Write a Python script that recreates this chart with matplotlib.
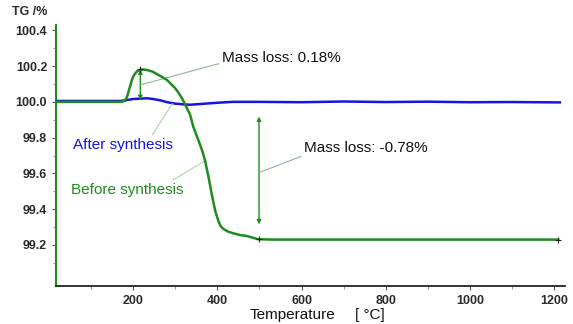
import numpy as np
import matplotlib.pyplot as plt

# TG curves
temp_before = [20, 170, 180, 185, 189, 193, 197, 201, 205, 210, 217, 225, 233, 245,
               256, 268, 280, 290, 300, 308, 316, 324, 335, 343, 351, 359, 365, 371,
               379, 387, 395, 403, 408, 414, 425, 438, 455, 470, 497, 530, 1210]
tg_before = [100.0, 100.0, 100.005, 100.025, 100.057, 100.09, 100.123, 100.145,
             100.16, 100.172, 100.18, 100.181, 100.178, 100.17, 100.156, 100.14,
             100.123, 100.1, 100.076, 100.05, 100.02, 99.983, 99.93, 99.86, 99.81,
             99.76, 99.72, 99.67, 99.58, 99.48, 99.39, 99.33, 99.305, 99.29, 99.275,
             99.265, 99.255, 99.25, 99.232, 99.23, 99.23]

temp_after = [20, 170, 185, 200, 217, 233, 250, 265, 281, 300, 320, 335, 360, 400,
              437, 500, 600, 700, 800, 900, 1000, 1100, 1214]
tg_after = [100.005, 100.005, 100.01, 100.016, 100.018, 100.02, 100.015, 100.008,
            99.998, 99.99, 99.986, 99.984, 99.988, 99.995, 100.0, 100.0, 99.998,
            100.002, 99.999, 100.001, 99.998, 99.999, 99.997]

peak_t, peak_tg = 217, 100.181
step_t, step_top, step_bottom = 499, 99.918, 99.315

green = '#1e8c1e'
blue = '#1414e6'
dark = '#2b2b2b'

plt.rcParams['font.family'] = ['Liberation Sans', 'DejaVu Sans']

fig = plt.figure(figsize=(5.73, 3.24), dpi=100)
ax = fig.add_axes([0.098, 0.117, 0.888, 0.806])

ax.plot(temp_after, tg_after, color=blue, lw=1.8, zorder=3)
ax.plot(temp_before, tg_before, color=green, lw=1.8, zorder=4,
        solid_joinstyle='round')

# markers at peak and curve end
ax.plot([peak_t, step_t, temp_before[-1]], [peak_tg, 99.232, 99.23], '+',
        color='#222222', ms=5, mew=0.8, zorder=5)

# double arrows
ax.annotate('', xy=(peak_t, peak_tg), xytext=(peak_t, 100.01),
            arrowprops=dict(arrowstyle='<|-|>', color=green, lw=1, mutation_scale=6,
                            shrinkA=0, shrinkB=0))
ax.annotate('', xy=(step_t, step_top), xytext=(step_t, step_bottom),
            arrowprops=dict(arrowstyle='<|-|>', color=green, lw=1, mutation_scale=6,
                            shrinkA=0, shrinkB=0))

# labels and leader lines
ax.annotate('Mass loss: 0.18%', xy=(peak_t, 100.095), xytext=(410, 100.245),
            fontsize=11, color='#111111', va='center',
            arrowprops=dict(arrowstyle='-', color='#8fb88f', lw=0.8,
                            shrinkA=0, shrinkB=0, relpos=(0, 0.15)))
ax.annotate('Mass loss: -0.78%', xy=(step_t, 99.604), xytext=(605, 99.74),
            fontsize=11, color='#111111', va='center',
            arrowprops=dict(arrowstyle='-', color='#8fb88f', lw=0.8,
                            shrinkA=0, shrinkB=0, relpos=(0, 0.0)))
ax.annotate('After synthesis', xy=(293, 99.99), xytext=(56, 99.76),
            fontsize=11, color=blue, va='center',
            arrowprops=dict(arrowstyle='-', color='#a6dca6', lw=0.8,
                            shrinkA=0, shrinkB=0, relpos=(0.78, 1.0)))
ax.annotate('Before synthesis', xy=(370, 99.67), xytext=(52, 99.51),
            fontsize=11, color=green, va='center',
            arrowprops=dict(arrowstyle='-', color='#a6dca6', lw=0.8,
                            shrinkA=0, shrinkB=0, relpos=(0.85, 0.9)))

ax.set_xlim(17, 1226)
ax.set_ylim(98.97, 100.43)
ax.set_xticks([200, 400, 600, 800, 1000, 1200])
ax.set_xticks(np.arange(100, 1201, 100), minor=True)
ax.set_yticks([99.2, 99.4, 99.6, 99.8, 100.0, 100.2, 100.4])
ax.set_yticks(np.arange(99.1, 100.41, 0.1), minor=True)
ax.set_yticklabels(['99.2', '99.4', '99.6', '99.8', '100.0', '100.2', '100.4'])

for s in ['top', 'right']:
    ax.spines[s].set_visible(False)
ax.spines['left'].set_color(green)
ax.spines['left'].set_linewidth(1.5)
ax.spines['bottom'].set_color('#222222')
ax.spines['bottom'].set_linewidth(1.3)

ax.tick_params(axis='both', which='major', labelsize=9, colors='#555555',
               labelcolor=dark, length=3, width=0.8)
ax.tick_params(axis='both', which='minor', colors='#888888', length=2, width=0.6)
for lab in ax.get_xticklabels() + ax.get_yticklabels():
    lab.set_fontweight('bold')

fig.text(0.021, 0.962, 'TG /%', fontsize=9, fontweight='bold', color=dark,
         va='center')
fig.text(0.436, 0.028, 'Temperature', fontsize=11, color='#111111', va='center')
fig.text(0.619, 0.028, '[ \u00b0C]', fontsize=11, color='#111111', va='center')

fig.savefig('out.png', dpi=100)
